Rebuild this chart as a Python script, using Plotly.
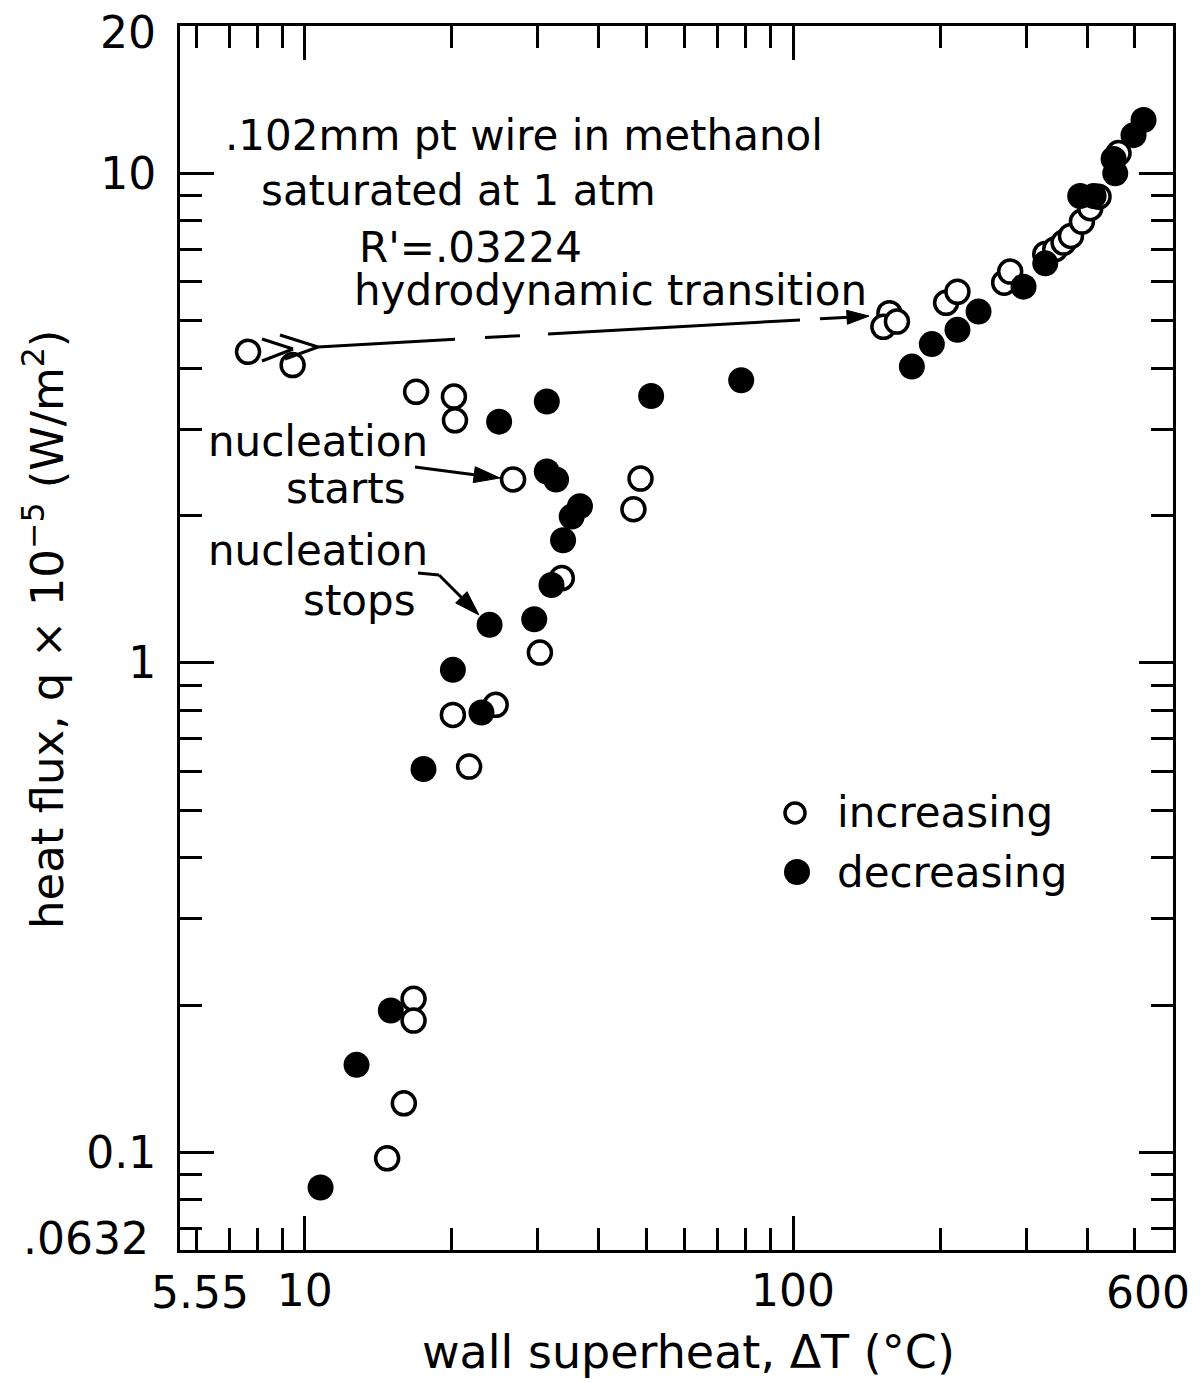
import math
import numpy as np
import plotly.graph_objects as go

FONT = "DejaVu Sans"

# ---- data ----
# increasing heat flux (open circles)
inc_dT = [7.65, 9.44, 16.9, 20.2, 20.3, 26.7, 48.7, 47.1, 33.6, 30.3, 24.6, 20.1, 21.7,
          16.7, 16.7, 15.95, 14.74,
          157.5, 153.1, 163.2, 205.8, 217.1, 270.6, 278.4, 328.5, 344.3, 358.1, 370.8,
          390.5, 406.1, 422.3, 464.1]
inc_q = [4.32, 4.06, 3.58, 3.50, 3.13, 2.37, 2.38, 2.06, 1.49, 1.05, 0.821, 0.783, 0.614,
         0.206, 0.186, 0.126, 0.0973,
         5.18, 4.86, 4.98, 5.44, 5.73, 5.98, 6.30, 6.84, 7.00, 7.22, 7.45,
         7.97, 8.49, 8.96, 11.0]

# decreasing heat flux (filled circles)
dec_dT = [10.77, 12.76, 15.0, 17.5, 20.1, 23.0, 23.9, 29.5, 32.0, 33.8, 35.2, 36.6, 31.3,
          32.7, 25.0, 31.3, 51.2, 78.3,
          175.1, 192.4, 217.1, 239.8, 296.5, 328.5, 387.3, 412.6, 456.9, 453.4, 498.1, 522.2]
dec_q = [0.0848, 0.151, 0.195, 0.607, 0.968, 0.792, 1.196, 1.228, 1.443, 1.78, 1.99, 2.09, 2.46,
         2.37, 3.11, 3.42, 3.51, 3.78,
         4.03, 4.48, 4.79, 5.22, 5.87, 6.55, 8.99, 8.99, 10.0, 10.7, 11.97, 12.85]

x_range = [5.55, 600]
y_range = [0.0632, 20]
x_major = [10, 100]
x_major_text = ["10", "100"]
x_minor = [6, 7, 8, 9, 20, 30, 40, 50, 60, 70, 80, 90, 200, 300, 400, 500]
y_major = [0.1, 1, 10]
y_major_text = ["0.1", "1", "10"]
y_minor = [0.07, 0.08, 0.09, 0.2, 0.3, 0.4, 0.5, 0.6, 0.7, 0.8, 0.9,
           2, 3, 4, 5, 6, 7, 8, 9]

# ---- layout geometry (page pixels; the page body adds an 8px margin) ----
OFF = 8
PW, PH = 1200, 1383
W, H = PW - OFF, PH - OFF
L, R, T, B = 180, 1173, 26, 1250


def px(x):
    return (x - L) / (R - L)


def py(y):
    return (B - y) / (B - T)


fig = go.Figure()
fig.add_trace(go.Scatter(
    x=inc_dT, y=inc_q, mode="markers", name="increasing",
    marker=dict(symbol="circle", size=23, color="white",
                line=dict(color="black", width=3.5)),
))
fig.add_trace(go.Scatter(
    x=dec_dT, y=dec_q, mode="markers", name="decreasing",
    marker=dict(symbol="circle", size=26, color="black",
                line=dict(color="black", width=0)),
))

axis_common = dict(
    type="log", showline=True, linewidth=3, linecolor="black", mirror="ticks",
    ticks="inside", ticklen=34, tickwidth=3, tickcolor="black",
    showgrid=False, zeroline=False, automargin=False,
    tickfont=dict(family=FONT, size=44, color="black"),
)

fig.update_xaxes(
    range=[np.log10(x_range[0]), np.log10(x_range[1])],
    tickmode="array", tickvals=x_major, ticktext=x_major_text,
    ticklabelstandoff=0,
    minor=dict(tickvals=x_minor, ticks="inside", ticklen=22, tickwidth=3,
               tickcolor="black", showgrid=False),
    **axis_common,
)
fig.update_yaxes(
    range=[np.log10(y_range[0]), np.log10(y_range[1])],
    tickmode="array", tickvals=y_major, ticktext=y_major_text,
    ticklabelstandoff=12,
    minor=dict(tickvals=y_minor, ticks="inside", ticklen=22, tickwidth=3,
               tickcolor="black", showgrid=False),
    **axis_common,
)

annotations = []


def text(s, x, y, size=42, xanchor="center", yanchor="middle", angle=0):
    annotations.append(dict(
        text=s, x=px(x), y=py(y), xref="paper", yref="paper",
        xanchor=xanchor, yanchor=yanchor, showarrow=False, textangle=angle,
        borderpad=0, font=dict(family=FONT, size=size, color="black"),
    ))


# end tick labels
text("20", 157, 33, size=44, xanchor="right")
text(".0632", 150, 1238, size=44, xanchor="right")
text("5.55", 200, 1292, size=44)
text("600", 1148, 1292, size=44)

# axis titles
text("wall superheat, \u0394T (\u00b0C)", 688, 1352, size=46)
text("heat flux, q \u00d7 10<sup>\u22125</sup> (W/m<sup>2</sup>)", 44, 630, size=45, angle=-90)

# in-plot labels
text(".102mm pt wire in methanol", 524, 135)
text("saturated at 1 atm", 458, 191)
text("R'=.03224", 470, 247)
text("hydrodynamic transition", 610, 290)
text("nucleation", 318, 441)
text("starts", 346, 488)
text("nucleation", 318, 550)
text("stops", 359, 600)
text("increasing", 836, 813, xanchor="left")
text("decreasing", 836, 872, xanchor="left")

shapes = []


def seg(x0, y0, x1, y1, w=3):
    shapes.append(dict(type="line", xref="paper", yref="paper",
                       x0=px(x0), y0=py(y0), x1=px(x1), y1=py(y1),
                       line=dict(color="black", width=w)))


def head(xt, yt, xs, ys, length=22, half=7):
    dx, dy = xt - xs, yt - ys
    n = math.hypot(dx, dy)
    ux, uy = dx / n, dy / n
    bx, by = xt - ux * length, yt - uy * length
    p1 = (bx - uy * half, by + ux * half)
    p2 = (bx + uy * half, by - ux * half)
    path = "M {},{} L {},{} L {},{} Z".format(
        px(xt), py(yt), px(p1[0]), py(p1[1]), px(p2[0]), py(p2[1]))
    shapes.append(dict(type="path", xref="paper", yref="paper", path=path,
                       fillcolor="black", line=dict(color="black", width=1)))


def arrow(xs, ys, xt, yt, length=22, half=7):
    n = math.hypot(xt - xs, yt - ys)
    k = (n - length + 2) / n
    seg(xs, ys, xs + (xt - xs) * k, ys + (yt - ys) * k)
    head(xt, yt, xs, ys, length, half)


def hy(x):
    return 347 - 0.05616 * (x - 318)


# hydrodynamic transition (dashed arrow with double tail)
for a, b in [(318, 455), (485, 520), (548, 800)]:
    seg(a, hy(a), b, hy(b))
arrow(820, hy(820), 869, hy(869), length=22, half=7)
for pts in [[(262, 339), (293, 349), (262, 361)], [(280, 335), (318, 347), (285, 359)]]:
    (ax0, ay0), (ax1, ay1), (ax2, ay2) = pts
    seg(ax0, ay0, ax1, ay1)
    seg(ax1, ay1, ax2, ay2)

# nucleation starts
arrow(415, 467, 500, 478, length=26, half=8)
# nucleation stops (bent)
seg(418, 573, 439, 575)
arrow(439, 575, 479, 615, length=25, half=8)

# legend symbols
shapes.append(dict(type="circle", xref="paper", yref="paper",
                   xsizemode="pixel", ysizemode="pixel",
                   xanchor=px(795), yanchor=py(813), x0=-10, x1=10, y0=-10, y1=10,
                   line=dict(color="black", width=3.5), fillcolor="white"))
shapes.append(dict(type="circle", xref="paper", yref="paper",
                   xsizemode="pixel", ysizemode="pixel",
                   xanchor=px(797), yanchor=py(872), x0=-13, x1=13, y0=-13, y1=13,
                   line=dict(color="black", width=0), fillcolor="black"))

fig.update_layout(
    width=W, height=H,
    margin=dict(l=L - OFF, r=PW - R, t=T - OFF, b=PH - B),
    paper_bgcolor="white", plot_bgcolor="white",
    showlegend=False,
    annotations=annotations, shapes=shapes,
    font=dict(family=FONT, color="black"),
)

fig.write_html("out.html")
